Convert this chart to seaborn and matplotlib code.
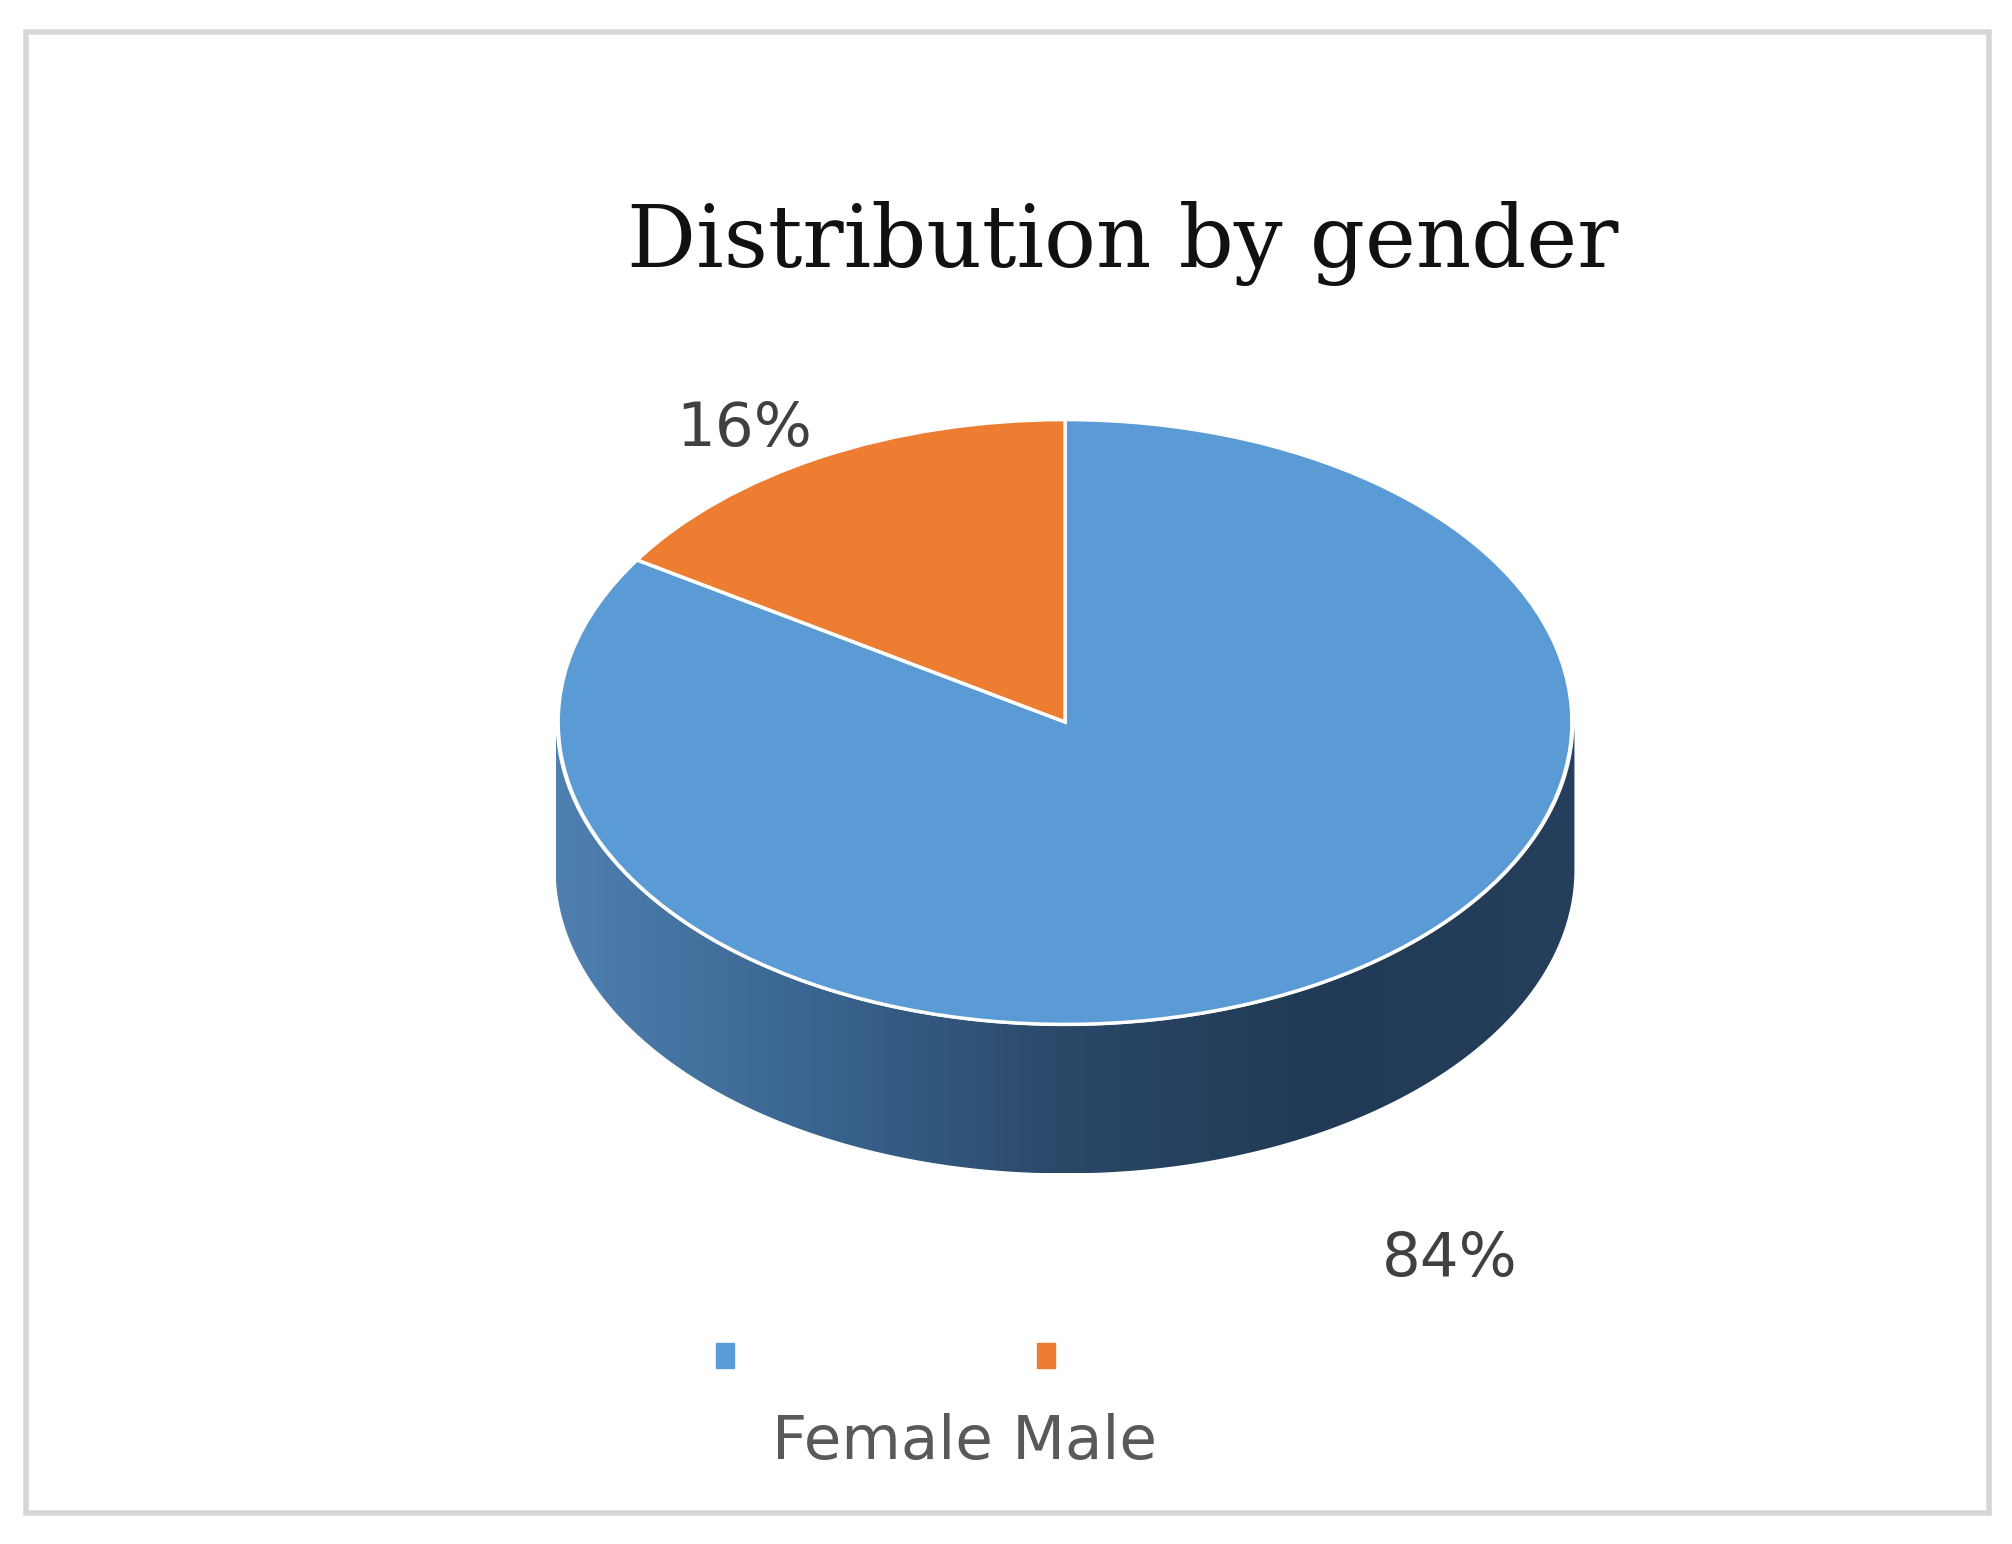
import numpy as np
import matplotlib.pyplot as plt
import seaborn as sns
from matplotlib.patches import Polygon, Rectangle
from matplotlib.colors import LinearSegmentedColormap

sns.set_theme(style="white")

# data
genders = ["Female", "Male"]
shares = [84, 16]
colors = ["#5b9bd5", "#ed7d31"]

W, H = 1568, 1204
fig = plt.figure(figsize=(20.12, 15.44), dpi=100)
ax = fig.add_axes([0, 0, 1, 1])
ax.set_xlim(0, W)
ax.set_ylim(H, 0)
ax.axis("off")

# outer frame
ax.add_patch(Rectangle((20, 25), 1530, 1155, fill=False, ec="#d6d6d6", lw=4))

# ellipse geometry (top face)
cx, cy, rx, ry, depth = 830, 563, 397, 237, 115

# side wall with gradient
t = np.linspace(np.pi, 2 * np.pi, 200)
top_x = cx + rx * np.cos(t)
top_y = cy - ry * np.sin(t)
pts = np.column_stack([np.r_[top_x, top_x[::-1]],
                       np.r_[top_y + depth, top_y[::-1]]])
side = Polygon(pts, closed=True, fc="none", ec="none")
ax.add_patch(side)
cmap = LinearSegmentedColormap.from_list(
    "side", ["#4f80b0", "#3a6590", "#2a4868", "#213a55", "#253f5c"])
grad = np.linspace(0, 1, 256).reshape(1, -1)
im = ax.imshow(grad, cmap=cmap, aspect="auto",
               extent=(cx - rx, cx + rx, cy + ry + depth, cy - 10), zorder=1)
im.set_clip_path(side)

# top face as a pie squashed into an ellipse
pax = fig.add_axes([(cx - rx) / W, 1 - (cy + ry) / H, 2 * rx / W, 2 * ry / H])
pax.pie(shares, colors=colors, startangle=90, counterclock=False,
        wedgeprops=dict(edgecolor="white", linewidth=2.5))
pax.set_aspect("auto")
pax.set_xlim(-1.005, 1.005)
pax.set_ylim(-1.005, 1.005)
pax.axis("off")

# title and labels
ax.text(875, 190, "Distribution by gender", ha="center", va="center",
        fontsize=62, family="DejaVu Serif", color="#111111")
ax.text(580, 335, f"{shares[1]}%", ha="center", va="center",
        fontsize=44, color="#404040")
ax.text(1130, 982, f"{shares[0]}%", ha="center", va="center",
        fontsize=44, color="#404040")

# legend
for x0, c in zip([565, 815], colors):
    ax.add_patch(Rectangle((x0 - 7, 1047), 14, 20, color=c))
ax.text(752, 1125, " ".join(genders), ha="center", va="center",
        fontsize=44, color="#595959")

fig.savefig("out.png", dpi=100)
